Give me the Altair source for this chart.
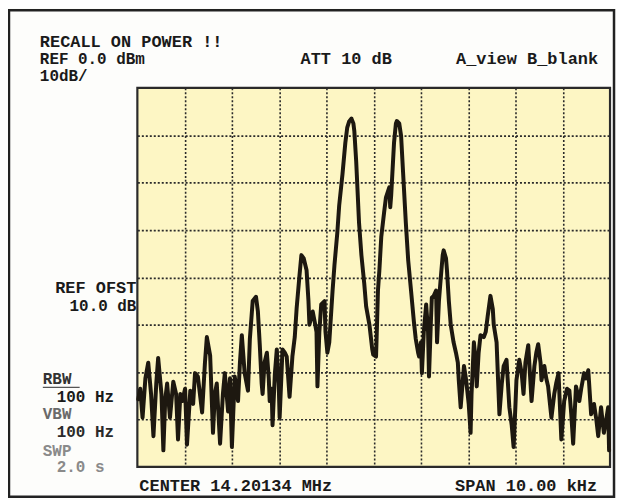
import altair as alt
import pandas as pd

# Spectrum trace: frequency offset from centre (kHz) and level (dB, 10 dB/div, top = 0)
freq_khz = [
    -4.98, -4.94, -4.89, -4.83, -4.77, -4.71, -4.66, -4.60, -4.56, -4.49,
    -4.45, -4.41, -4.37, -4.31, -4.24, -4.18, -4.14, -4.09, -4.05, -3.99,
    -3.95, -3.88, -3.82, -3.78, -3.72, -3.63, -3.57, -3.53, -3.46, -3.40,
    -3.36, -3.32, -3.25, -3.19, -3.15, -3.08, -3.04, -3.00, -2.94, -2.87,
    -2.83, -2.79, -2.73, -2.66, -2.62, -2.56, -2.49, -2.45, -2.41, -2.37,
    -2.35, -2.31, -2.26, -2.22, -2.20, -2.16, -2.14, -2.09, -2.05, -2.01,
    -1.99, -1.95, -1.93, -1.88, -1.84, -1.78, -1.72, -1.67, -1.63, -1.57,
    -1.53, -1.48, -1.42, -1.38, -1.36, -1.32, -1.29, -1.25, -1.21, -1.19,
    -1.15, -1.11, -1.04, -1.02, -0.98, -0.94, -0.87, -0.83, -0.77, -0.73,
    -0.66, -0.60, -0.56, -0.52, -0.47, -0.43, -0.41, -0.37, -0.31, -0.26,
    -0.20, -0.16, -0.09, -0.03, -0.01, 0.05, 0.07, 0.09, 0.12, 0.16,
    0.22, 0.26, 0.33, 0.35, 0.37, 0.43, 0.47, 0.49, 0.54, 0.58,
    0.62, 0.68, 0.73, 0.79, 0.85, 0.89, 0.94, 0.96, 1.00, 1.02,
    1.06, 1.11, 1.15, 1.17, 1.21, 1.23, 1.27, 1.32, 1.34, 1.38,
    1.42, 1.46, 1.48, 1.53, 1.55, 1.59, 1.63, 1.69, 1.74, 1.78,
    1.80, 1.84, 1.88, 1.91, 1.95, 1.97, 2.01, 2.05, 2.07, 2.12,
    2.16, 2.18, 2.22, 2.26, 2.33, 2.37, 2.41, 2.47, 2.52, 2.54,
    2.60, 2.66, 2.71, 2.75, 2.81, 2.87, 2.92, 2.96, 3.00, 3.02,
    3.08, 3.13, 3.17, 3.21, 3.27, 3.34, 3.40, 3.44, 3.48, 3.53,
    3.55, 3.61, 3.65, 3.69, 3.76, 3.82, 3.86, 3.91, 3.97, 4.01,
    4.03, 4.09, 4.14, 4.18, 4.22, 4.28, 4.35, 4.39, 4.45, 4.49,
    4.54, 4.60, 4.66, 4.71, 4.75, 4.81, 4.87, 4.92, 4.96, 4.98,
]
level_db = [
    -65.7, -63.5, -69.6, -61.3, -58.0, -64.6, -73.5, -62.4, -57.0, -64.6,
    -76.5, -65.7, -62.4, -69.6, -62.0, -64.6, -74.2, -64.6, -66.1, -63.5,
    -75.3, -63.9, -66.7, -60.2, -60.9, -68.5, -58.0, -52.6, -56.5, -72.8,
    -64.6, -62.4, -75.1, -64.6, -60.2, -68.3, -61.3, -75.8, -60.9, -66.1,
    -58.0, -52.2, -60.2, -63.9, -53.0, -45.0, -44.1, -47.2, -54.3, -62.4,
    -64.6, -58.0, -55.9, -61.3, -66.1, -63.5, -71.2, -60.2, -55.2, -62.4,
    -69.6, -60.2, -55.2, -55.9, -56.7, -65.2, -56.7, -52.6, -46.5, -39.6,
    -35.3, -36.0, -38.5, -45.0, -50.0, -48.3, -47.2, -49.3, -51.5, -63.0,
    -51.5, -45.7, -45.0, -51.5, -55.9, -53.7, -42.8, -37.4, -30.6, -24.8,
    -18.2, -11.6, -8.4, -7.1, -6.5, -7.5, -9.1, -15.6, -28.5, -35.3,
    -41.3, -46.1, -50.0, -55.2, -56.3, -56.7, -50.0, -42.8, -38.5, -31.5,
    -26.3, -23.1, -21.0, -25.2, -22.7, -11.6, -7.5, -7.0, -7.5, -10.2,
    -17.6, -28.5, -36.4, -42.8, -49.3, -53.0, -55.9, -56.7, -53.7, -60.2,
    -51.5, -45.7, -51.5, -60.9, -49.3, -44.3, -43.9, -42.8, -53.7, -45.0,
    -40.0, -35.3, -34.3, -36.0, -38.5, -45.0, -50.0, -53.7, -55.9, -58.0,
    -61.7, -67.4, -62.4, -58.7, -61.3, -63.0, -66.7, -72.8, -64.6, -53.7,
    -58.0, -63.0, -55.9, -52.2, -52.6, -51.5, -48.3, -43.9, -46.7, -50.0,
    -53.7, -68.9, -62.4, -58.7, -57.4, -67.4, -71.2, -75.8, -66.7, -61.7,
    -57.4, -60.2, -64.6, -58.0, -54.3, -66.1, -58.7, -55.9, -54.1, -58.0,
    -61.7, -58.7, -61.3, -63.0, -69.6, -64.6, -62.4, -60.2, -74.2, -68.9,
    -66.1, -63.5, -63.9, -68.9, -75.1, -63.0, -66.1, -63.5, -60.2, -61.3,
    -59.6, -68.9, -66.7, -70.0, -73.5, -67.4, -72.8, -70.0, -67.4, -76.5,
]

x_grid = [-4, -3, -2, -1, 0, 1, 2, 3, 4]
y_grid = [-70, -60, -50, -40, -30, -20, -10]

df = pd.DataFrame({"f": freq_khz, "db": level_db})

FONT = "Liberation Mono"
W, H = 475, 381

xs = alt.X("f:Q", scale=alt.Scale(domain=[-5, 5], nice=False, zero=False),
           axis=alt.Axis(values=x_grid, labels=False, ticks=False, domain=False,
                         title=None, grid=True, gridDash=[2, 2],
                         gridColor="#2a2a2a", gridWidth=1.6))
ys = alt.Y("db:Q", scale=alt.Scale(domain=[-80, 0], nice=False, zero=False),
           axis=alt.Axis(values=y_grid, labels=False, ticks=False, domain=False,
                         title=None, grid=True, gridDash=[2, 2],
                         gridColor="#2a2a2a", gridWidth=1.6))

trace = alt.Chart(df).mark_line(
    color="#1d1810", strokeWidth=4, strokeJoin="round", strokeCap="round"
).encode(x=xs, y=ys, order="f:Q")

one = pd.DataFrame({"t": [""]})


def label(text, x, y, color="#1a1a1a", align="left", size=16):
    return alt.Chart(pd.DataFrame({"t": [text]})).mark_text(
        font=FONT, fontWeight="bold", fontSize=size, align=align,
        baseline="alphabetic", color=color
    ).encode(text="t:N", x=alt.value(x), y=alt.value(y))


# Positions are relative to the plot area's top-left corner
labels = [
    label("RECALL ON POWER !!", -98, -41, size=17),
    label("REF 0.0 dBm", -98, -24),
    label("ATT 10 dB", 164, -24, size=17),
    label("A_view B_blank", 463, -24, align="right", size=17),
    label("10dB/", -98, -7),
    label("REF OFST", -1, 206, align="right", size=17),
    label("10.0 dB", -1, 224, align="right"),
    label("RBW", -95, 298, color="#333333"),
    label("100 Hz", -81, 316),
    label("VBW", -95, 333, color="#6a6a6a"),
    label("100 Hz", -81, 351, color="#2a2a2a"),
    label("SWP", -95, 370, color="#8a8a8a"),
    label("2.0 s", -81, 386, color="#8a8a8a"),
    label("CENTER 14.20134 MHz", 2, 405, size=17),
    label("SPAN 10.00 kHz", 462, 405, align="right", size=17),
]

underline = alt.Chart(one).mark_rule(color="#555555", strokeWidth=1.2).encode(
    x=alt.value(-95), x2=alt.value(-58), y=alt.value(301)
)

frame = alt.Chart(one).mark_rect(
    fill=None, stroke="#222222", strokeWidth=2.5
).encode(x=alt.value(-129), x2=alt.value(479), y=alt.value(-78), y2=alt.value(411))

chart = alt.layer(frame, trace, underline, *labels).properties(
    width=W, height=H,
    padding={"left": 130, "top": 79, "right": 6, "bottom": 32},
    autosize=alt.AutoSizeParams(type="none"),
    background="#fdfdfb",
).configure_view(
    fill="#fdf6c4", stroke="#2a2a2a", strokeWidth=2.2
)

chart.save("out.html", embed_options={"renderer": "svg", "actions": False})
